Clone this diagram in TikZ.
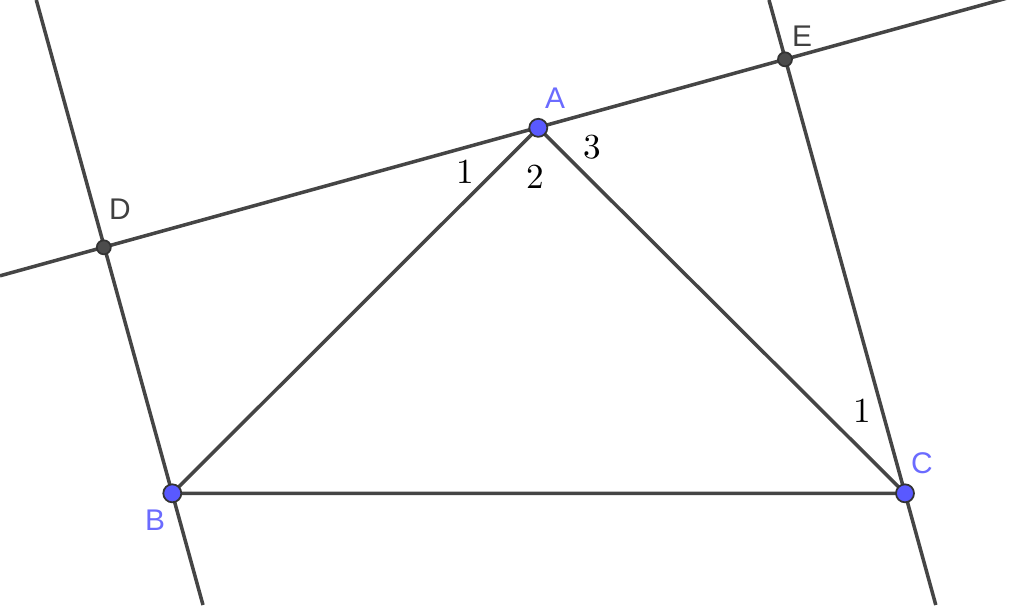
\documentclass[tikz,border=0pt]{standalone}
\usepackage{fontspec}
\setsansfont{Liberation Sans}
\usetikzlibrary{calc}

\begin{document}
\begin{tikzpicture}[x=0.01cm, y=-0.01cm,
  seg/.style={draw=linegray, line width=1pt},
  bluept/.style={circle, draw=black!80, fill=ptblue, line width=0.5pt, inner sep=0pt, minimum size=0.18cm},
  darkpt/.style={circle, draw=black!80, fill=black!70, line width=0.5pt, inner sep=0pt, minimum size=0.14cm},
  ptlabel/.style={font=\sffamily\fontsize{8.5}{10}\selectfont},
  anglabel/.style={font=\fontsize{10}{12}\selectfont}]

%─────────────
% Colours
%─────────────
\definecolor{linegray}{rgb}{0.27,0.27,0.27}
\definecolor{ptblue}{rgb}{0.35,0.35,1.0}
\definecolor{lblblue}{rgb}{0.42,0.42,1.0}

\useasboundingbox (0,0) rectangle (1024,605);

%─────────────
% Points
%─────────────
\coordinate (A) at (538.3,127.8);
\coordinate (B) at (172.3,493.3);
\coordinate (C) at (905,493.3);
\coordinate (D) at (103.8,247.3);
\coordinate (E) at (785,59.3);

% ends of the three lines
\coordinate (L1) at (0,275.8);
\coordinate (L2) at (1024,-6.6);
\coordinate (P1) at (36.3,0);
\coordinate (P2) at (203,605);
\coordinate (Q1) at (769,0);
\coordinate (Q2) at (935.8,605);

%─────────────
% Lines and triangle
%─────────────
\draw[seg] (L1) -- (L2);
\draw[seg] (P1) -- (P2);
\draw[seg] (Q1) -- (Q2);
\draw[seg] (A) -- (B) -- (C) -- cycle;

%─────────────
% Point markers
%─────────────
\node[darkpt] (d) at (D) {};
\node[darkpt] (e) at (E) {};
\node[bluept] (a) at (A) {};
\node[bluept] (b) at (B) {};
\node[bluept] (c) at (C) {};

%─────────────
% Labels
%─────────────
\node[ptlabel, text=lblblue] (la) at (555,98) {A};
\node[ptlabel, text=lblblue] (lb) at (155,520) {B};
\node[ptlabel, text=lblblue] (lc) at (922,463) {C};
\node[ptlabel, text=black!75] (ld) at (120,209) {D};
\node[ptlabel, text=black!75] (le) at (802,36) {E};

\node[anglabel] (n1) at (465,172) {1};
\node[anglabel] (n2) at (535,177) {2};
\node[anglabel] (n3) at (592,147) {3};
\node[anglabel] (n4) at (862,411) {1};
\end{tikzpicture}
\end{document}
